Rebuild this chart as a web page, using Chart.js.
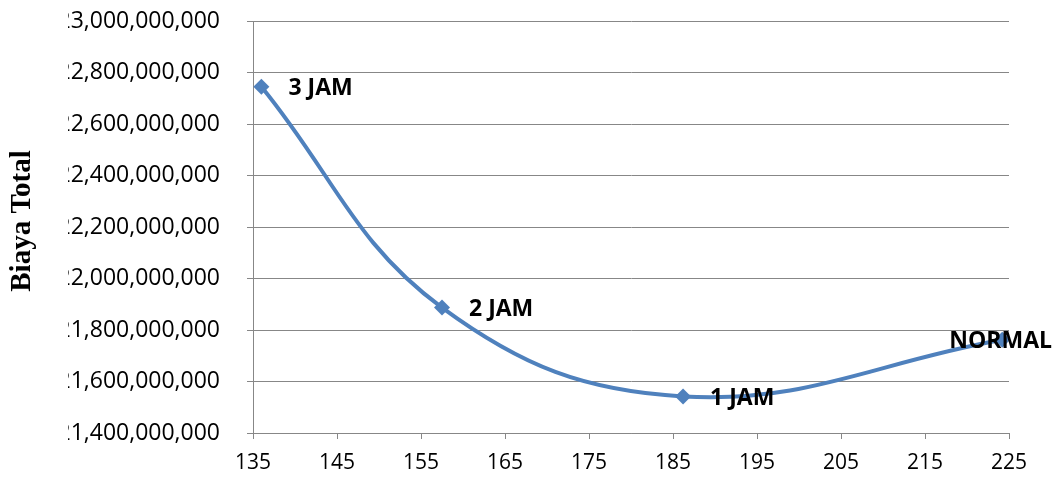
<!DOCTYPE html>
<html>
<head>
<meta charset="utf-8">
<script src="https://cdn.jsdelivr.net/npm/chart.js@4/dist/chart.umd.min.js"></script>
<style>
  html, body { margin: 0; padding: 0; background: #fff; }
  #wrap { width: 1059px; height: 480px; position: relative; }
</style>
</head>
<body>
<div id="wrap"><canvas id="costChart"></canvas></div>
<script>
// scenario names, project duration (days) and total cost
const scenarios = ['3 JAM', '2 JAM', '1 JAM', 'NORMAL'];
const durations = [136, 157.5, 186.2, 224.2];
const totalCost = [22745000000, 21887000000, 21542000000, 21762000000];

const xMin = 135, xMax = 225, xStep = 10;
const yMin = 21400000000, yMax = 23000000000, yStep = 200000000;
const yTitle = 'Biaya Total';

const blue = '#4f81bd';
const gridGray = '#878787';
const tickFont = { family: 'Open Sans', size: 23 };
const yTickLen = 6, yTickPad = 27;

// the source picture had the first digit of each y label cut off,
// so paint over that strip and put the axis title back on top
const cropAndTitle = {
    id: 'cropAndTitle',
    afterDraw(chart) {
        const ctx = chart.ctx;
        const ys = chart.scales.y;
        ctx.save();
        ctx.font = tickFont.size + 'px "' + tickFont.family + '"';
        const full = ctx.measureText(yMax.toLocaleString('en-US')).width;
        const left = ys.right - yTickLen - yTickPad - full;
        const cut = left + ctx.measureText('2').width * 0.8;
        ctx.fillStyle = '#fff';
        ctx.fillRect(0, 0, cut, chart.height);
        ctx.translate(23, 221);
        ctx.rotate(-Math.PI / 2);
        ctx.fillStyle = '#000';
        ctx.font = 'bold 29px "Liberation Serif"';
        ctx.textAlign = 'center';
        ctx.textBaseline = 'middle';
        ctx.fillText(yTitle, 0, 0);
        ctx.restore();
    }
};

// point labels to the right of each marker, kept inside the canvas
const pointLabels = {
    id: 'pointLabels',
    afterDatasetsDraw(chart) {
        const ctx = chart.ctx;
        const meta = chart.getDatasetMeta(0);
        ctx.save();
        ctx.font = 'bold 23px "Open Sans"';
        ctx.fillStyle = '#000';
        ctx.textBaseline = 'middle';
        meta.data.forEach((pt, i) => {
            const txt = scenarios[i];
            const w = ctx.measureText(txt).width;
            let x = pt.x + 27;
            if (x + w > chart.width - 7) x = chart.width - 7 - w;
            ctx.fillText(txt, x, pt.y + 2);
        });
        ctx.restore();
    }
};

new Chart(document.getElementById('costChart'), {
    type: 'line',
    data: {
        datasets: [{
            data: durations.map((d, i) => ({ x: d, y: totalCost[i] })),
            borderColor: blue,
            backgroundColor: blue,
            borderWidth: 4,
            tension: 0.4,
            pointStyle: 'rectRot',
            pointRadius: 8,
            pointHoverRadius: 8,
            pointBorderWidth: 0,
            fill: false
        }]
    },
    options: {
        responsive: true,
        maintainAspectRatio: false,
        animation: false,
        layout: { padding: { left: 0, top: 21, right: 50, bottom: 0 } },
        plugins: { legend: { display: false }, tooltip: { enabled: false } },
        scales: {
            x: {
                type: 'linear',
                min: xMin,
                max: xMax,
                ticks: { stepSize: xStep, color: '#000', font: { family: 'Open Sans', size: 21 }, padding: 11, maxRotation: 0 },
                grid: { drawOnChartArea: false, drawTicks: true, tickLength: 6, color: gridGray },
                border: { color: gridGray },
                afterFit(scale) { scale.height = 47; }
            },
            y: {
                min: yMin,
                max: yMax,
                ticks: {
                    stepSize: yStep,
                    color: '#000',
                    font: tickFont,
                    padding: yTickPad,
                    callback: v => v.toLocaleString('en-US')
                },
                grid: { color: gridGray, tickLength: yTickLen },
                border: { color: gridGray },
                afterFit(scale) {
                    scale.width = 253;
                    scale.paddingTop = 0;
                    scale.paddingBottom = 0;
                }
            }
        }
    },
    plugins: [pointLabels, cropAndTitle]
});
</script>
</body>
</html>
